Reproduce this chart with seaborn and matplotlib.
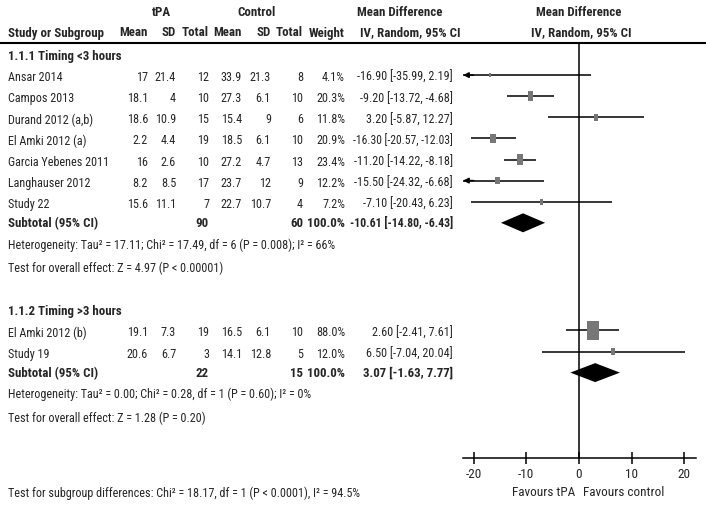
import matplotlib

matplotlib.use("Agg")

import matplotlib.pyplot as plt
import matplotlib.transforms as mtransforms
from matplotlib import font_manager
from matplotlib.lines import Line2D
import pandas as pd
import seaborn as sns

# ---- data ----
group_titles = ["1.1.1 Timing <3 hours", "1.1.2 Timing >3 hours"]
study_group = [0, 0, 0, 0, 0, 0, 0, 1, 1]
study_names = [
    "Ansar 2014", "Campos 2013", "Durand 2012 (a,b)", "El Amki 2012 (a)",
    "Garcia Yebenes 2011", "Langhauser 2012", "Study 22",
    "El Amki 2012 (b)", "Study 19",
]
tpa_mean = [17, 18.1, 18.6, 2.2, 16, 8.2, 15.6, 19.1, 20.6]
tpa_sd = [21.4, 4, 10.9, 4.4, 2.6, 8.5, 11.1, 7.3, 6.7]
tpa_total = [12, 10, 15, 19, 10, 17, 7, 19, 3]
ctl_mean = [33.9, 27.3, 15.4, 18.5, 27.2, 23.7, 22.7, 16.5, 14.1]
ctl_sd = [21.3, 6.1, 9, 6.1, 4.7, 12, 10.7, 6.1, 12.8]
ctl_total = [8, 10, 6, 10, 13, 9, 4, 10, 5]
weight = [4.1, 20.3, 11.8, 20.9, 23.4, 12.2, 7.2, 88.0, 12.0]
md = [-16.90, -9.20, 3.20, -16.30, -11.20, -15.50, -7.10, 2.60, 6.50]
ci_low = [-35.99, -13.72, -5.87, -20.57, -14.22, -24.32, -20.43, -2.41, -7.04]
ci_high = [2.19, -4.68, 12.27, -12.03, -8.18, -6.68, 6.23, 7.61, 20.04]

sub_md = [-10.61, 3.07]
sub_low = [-14.80, -1.63]
sub_high = [-6.43, 7.77]
heterogeneity = [
    "Heterogeneity: Tau² = 17.11; Chi² = 17.49, df = 6 (P = 0.008); I² = 66%",
    "Heterogeneity: Tau² = 0.00; Chi² = 0.28, df = 1 (P = 0.60); I² = 0%",
]
overall_effect = [
    "Test for overall effect: Z = 4.97 (P < 0.00001)",
    "Test for overall effect: Z = 1.28 (P = 0.20)",
]
subgroup_test = "Test for subgroup differences: Chi² = 18.17, df = 1 (P < 0.0001), I² = 94.5%"
x_ticks = [-20, -10, 0, 10, 20]

# ---- style ----
sns.set_style("white")
installed = {f.name for f in font_manager.fontManager.ttflist}
font = "Liberation Sans"
for cand in ["Liberation Sans Narrow", "Arial Narrow", "DejaVu Sans Condensed",
             "Roboto Condensed", "Open Sans Condensed"]:
    if cand in installed:
        font = cand
        break
plt.rcParams["font.family"] = [font, "DejaVu Sans"]

W, H = 706, 514
XMIN, XMAX = -22, 22.2
ROW0, PITCH = 54, 21.1  # pixel y of row 0 and row spacing


def row_of(py):
    return (py - ROW0) / PITCH


fig = plt.figure(figsize=(W / 100, H / 100), dpi=100)
renderer = fig.canvas.get_renderer()


def text_width(s, bold):
    t = fig.text(0, 0, s, fontsize=10, fontweight="bold" if bold else "normal")
    w = t.get_window_extent(renderer).width
    t.remove()
    return w


# the source uses a narrow face; size the text so its widths match the source
FS = min(10.5, 10.3 * 339 / text_width(subgroup_test, False))
FS_B = min(10.5, 10.2 * 94 / text_width("Study or Subgroup", True))

# row layout
study_rows, title_rows, sub_rows, het_rows, test_rows = [], [], [], [], []
starts = [0, 12.1]
for g in range(2):
    y = starts[g]
    title_rows.append(y)
    for gi in study_group:
        if gi == g:
            y += 1
            study_rows.append(y)
    y += 1
    sub_rows.append(y)
    y += 1.05
    het_rows.append(y)
    y += 1.1
    test_rows.append(y)

df = pd.DataFrame({
    "md": md, "lo": ci_low, "hi": ci_high, "w": weight, "row": study_rows,
})

ax = fig.add_axes([463 / W, 1 - 458 / H, (696 - 463) / W, (458 - 43) / H])
ax.set_xlim(XMIN, XMAX)
ax.set_ylim(row_of(458), row_of(43))

# confidence intervals
for _, r in df.iterrows():
    left = max(r["lo"], XMIN)
    ax.hlines(r["row"], left, r["hi"], color="black", lw=1.1, zorder=2)
    if r["lo"] < XMIN:
        ax.annotate("", xy=(XMIN, r["row"]), xytext=(XMIN + 2, r["row"]),
                    arrowprops=dict(arrowstyle="-|>", color="black", lw=1.1,
                                    mutation_scale=8, shrinkA=0, shrinkB=0))

# weighted squares (slightly taller than wide, as in the source)
rect = [(-0.31, -0.5), (0.31, -0.5), (0.31, 0.5), (-0.31, 0.5)]
sns.scatterplot(data=df, x="md", y="row", s=df["w"] * 2.3, marker=rect,
                color="#777777", edgecolor="none", linewidth=0, ax=ax,
                zorder=3, legend=False)

# subtotal diamonds
for g in range(2):
    y = sub_rows[g]
    ax.fill([sub_low[g], sub_md[g], sub_high[g], sub_md[g]],
            [y, y - 0.45, y, y + 0.45], color="black", lw=0, zorder=3)

ax.axvline(0, color="black", lw=1.1, zorder=1)
sns.despine(ax=ax, left=True, top=True, right=True)
ax.spines["bottom"].set_linewidth(1.1)
ax.spines["bottom"].set_color("black")
ax.set_yticks([])
ax.set_xticks(x_ticks)
ax.set_xticklabels([str(t) for t in x_ticks])
ax.tick_params(axis="x", direction="inout", length=8, width=1.1, pad=3,
               labelsize=FS + 0.8, bottom=True, color="black")
ax.set_xlabel("")
ax.set_ylabel("")

xfig_ydata = mtransforms.blended_transform_factory(fig.transFigure, ax.transData)


def put(px, row, s, ha="right", bold=False, fit=None):
    size = FS_B if bold else FS
    if fit is not None:
        size = min(size, 10 * fit / text_width(s, bold))
    ax.text(px / W, row, s, transform=xfig_ydata, ha=ha, va="center",
            fontweight="bold" if bold else "normal", fontsize=size,
            clip_on=False)


def num(v):
    return f"{v:g}"


# header
h1, h2 = row_of(12), row_of(33)
put(161, h1, "tPA", ha="center", bold=True)
put(257, h1, "Control", ha="center", bold=True)
put(400, h1, "Mean Difference", ha="center", bold=True)
put(579, h1, "Mean Difference", ha="center", bold=True)
put(8, h2, "Study or Subgroup", ha="left", bold=True)
for px, s in [(148, "Mean"), (176, "SD"), (209, "Total"), (242, "Mean"),
              (271, "SD"), (303, "Total"), (345, "Weight")]:
    put(px, h2, s, bold=True)
put(410, h2, "IV, Random, 95% CI", ha="center", bold=True)
put(581, h2, "IV, Random, 95% CI", ha="center", bold=True)
fig.add_artist(Line2D([0, 1], [1 - 43 / H] * 2, transform=fig.transFigure,
                      color="black", lw=1.5))

# study rows
for i, name in enumerate(study_names):
    y = study_rows[i] + 0.12
    put(8, y, name, ha="left")
    put(148, y, num(tpa_mean[i]))
    put(176, y, num(tpa_sd[i]))
    put(209, y, num(tpa_total[i]))
    put(242, y, num(ctl_mean[i]))
    put(271, y, num(ctl_sd[i]))
    put(303, y, num(ctl_total[i]))
    put(345, y, f"{weight[i]:.1f}%")
    put(453, y, f"{md[i]:.2f} [{ci_low[i]:.2f}, {ci_high[i]:.2f}]", fit=100)

# group rows
for g in range(2):
    members = [i for i, gi in enumerate(study_group) if gi == g]
    put(8, title_rows[g] + 0.1, group_titles[g], ha="left", bold=True)
    y = sub_rows[g] + 0.05
    put(8, y, "Subtotal (95% CI)", ha="left", bold=True)
    put(209, y, str(sum(tpa_total[i] for i in members)), bold=True)
    put(303, y, str(sum(ctl_total[i] for i in members)), bold=True)
    put(345, y, "100.0%", bold=True)
    put(453, y, f"{sub_md[g]:.2f} [{sub_low[g]:.2f}, {sub_high[g]:.2f}]",
        bold=True, fit=104)
    put(8, het_rows[g], heterogeneity[g], ha="left")
    put(8, test_rows[g], overall_effect[g], ha="left")

put(8, row_of(493), subgroup_test, ha="left")

xdata_yfig = mtransforms.blended_transform_factory(ax.transData, fig.transFigure)
ax.text(-0.8, 1 - 492 / H, "Favours tPA", transform=xdata_yfig, ha="right",
        va="center", fontsize=FS + 0.8)
ax.text(0.8, 1 - 492 / H, "Favours control", transform=xdata_yfig, ha="left",
        va="center", fontsize=FS + 0.8)

fig.savefig("out.png", dpi=100)
